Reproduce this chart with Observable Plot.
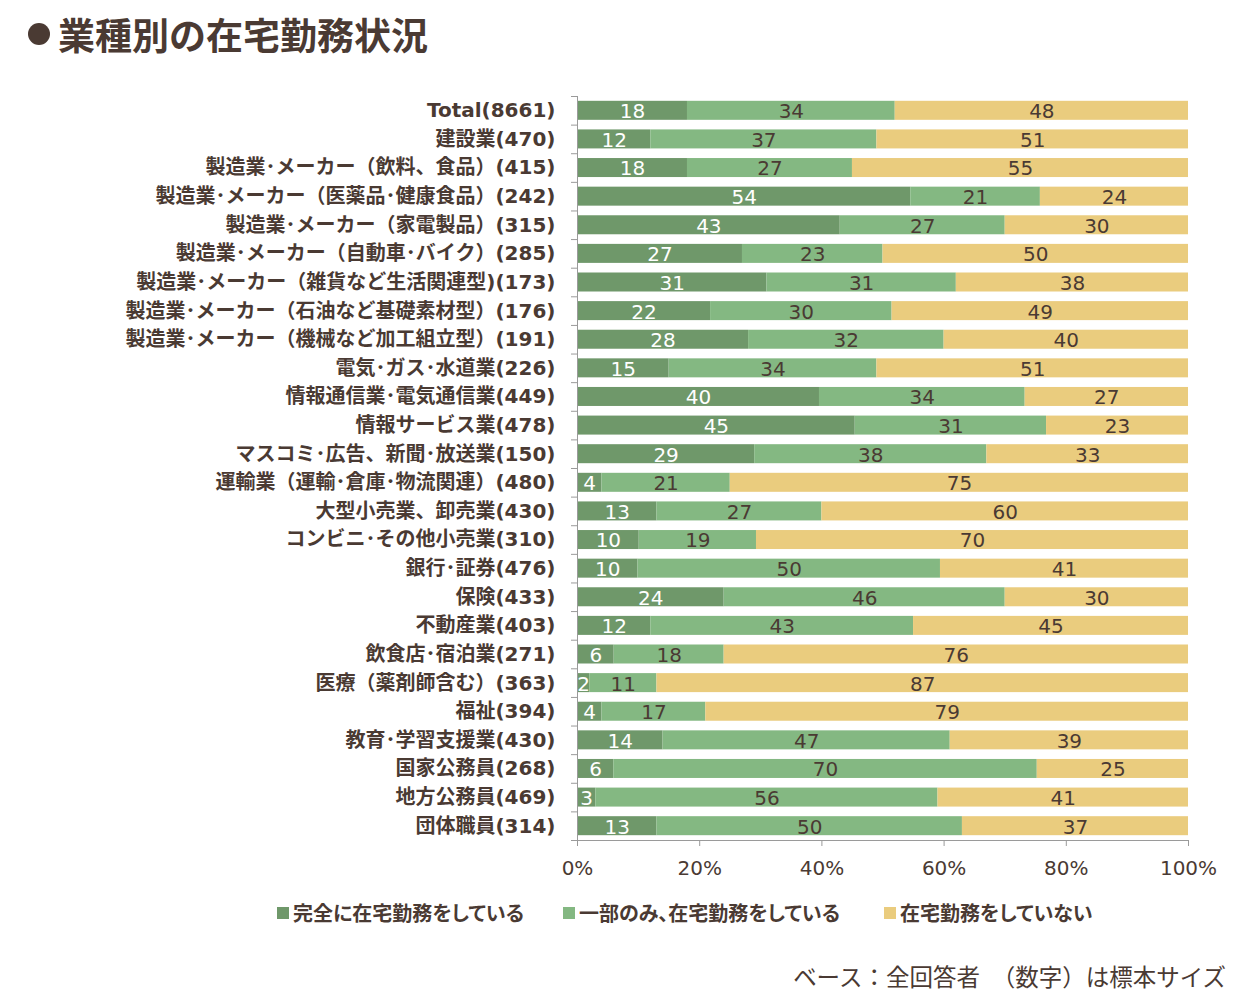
<!DOCTYPE html>
<html><head><meta charset="utf-8">
<script src="https://cdn.jsdelivr.net/npm/d3@7"></script>
<script src="https://cdn.jsdelivr.net/npm/@observablehq/plot@0.6"></script>
<style>
body{margin:0;background:#fff;}
#wrap{position:relative;width:1242px;height:1006px;color:#4a3a33;font-family:"Noto Sans CJK JP",sans-serif;}
#title{position:absolute;left:26px;top:12px;font-size:37px;font-weight:bold;line-height:44px;white-space:nowrap;display:flex;align-items:center;}
#title .dot{display:inline-block;width:22px;height:22px;border-radius:50%;background:#4a3a33;margin:0 8px 0 2px;}
#chart{position:absolute;left:0;top:80px;}
#legend{position:absolute;left:0;top:898px;width:1242px;height:30px;font-size:20px;font-weight:bold;line-height:30px;white-space:nowrap;font-feature-settings:"palt";}
#legend .item{position:absolute;top:0;display:flex;align-items:center;}
#legend .sw{width:12px;height:12px;margin-right:4px;}
#note{position:absolute;right:16px;top:960px;font-size:23.5px;line-height:32px;white-space:nowrap;}
</style></head>
<body>
<div id="wrap">
<div id="title"><span class="dot"></span><span>業種別の在宅勤務状況</span></div>
<div id="chart"></div>
<div id="legend"></div>
<div id="note">ベース：全回答者　（数字）は標本サイズ</div>
</div>
<script>
const categories = [
"Total(8661)",
"建設業(470)",
"製造業･メーカー（飲料、食品）(415)",
"製造業･メーカー（医薬品･健康食品）(242)",
"製造業･メーカー（家電製品）(315)",
"製造業･メーカー（自動車･バイク）(285)",
"製造業･メーカー（雑貨など生活関連型)(173)",
"製造業･メーカー（石油など基礎素材型）(176)",
"製造業･メーカー（機械など加工組立型）(191)",
"電気･ガス･水道業(226)",
"情報通信業･電気通信業(449)",
"情報サービス業(478)",
"マスコミ･広告、新聞･放送業(150)",
"運輸業（運輸･倉庫･物流関連）(480)",
"大型小売業、卸売業(430)",
"コンビニ･その他小売業(310)",
"銀行･証券(476)",
"保険(433)",
"不動産業(403)",
"飲食店･宿泊業(271)",
"医療（薬剤師含む）(363)",
"福祉(394)",
"教育･学習支援業(430)",
"国家公務員(268)",
"地方公務員(469)",
"団体職員(314)"
];
const fullRemote    = [18,12,18,54,43,27,31,22,28,15,40,45,29, 4,13,10,10,24,12, 6, 2, 4,14, 6, 3,13];
const partialRemote = [34,37,27,21,27,23,31,30,32,34,34,31,38,21,27,19,50,46,43,18,11,17,47,70,56,50];
const noRemote      = [48,51,55,24,30,50,38,49,40,51,27,23,33,75,60,70,41,30,45,76,87,79,39,25,41,37];
const seriesNames = ["完全に在宅勤務をしている","一部のみ、在宅勤務をしている","在宅勤務をしていない"];
const seriesColors = ["#6f986a","#84b882","#eacc7e"];
const xTicks = [0,0.2,0.4,0.6,0.8,1];

const brown = "#4a3a33";
const axisGray = "#9a9a9a";
const legendLefts = [277, 563, 884];

const data = categories.flatMap((c,i) =>
  [fullRemote[i], partialRemote[i], noRemote[i]].map((v,j) => ({category:c, series:seriesNames[j], value:v})));

const W = 1242, H = 800, mL = 577, mR = 54, mT = 16, mB = 40;
const step = (H - mT - mB) / categories.length;
const tickLen = 6 / (W - mL - mR);
const numFont = "DejaVu Sans, sans-serif";

const chart = Plot.plot({
  width: W, height: H,
  marginLeft: mL, marginRight: mR, marginTop: mT, marginBottom: mB,
  style: {fontFamily: "DejaVu Sans, 'Noto Sans CJK JP', sans-serif", color: brown, background: "transparent", overflow: "visible"},
  x: {domain: [0,1], axis: null},
  y: {domain: categories, paddingInner: 0.336, paddingOuter: 0.168, round: false, axis: null},
  color: {domain: seriesNames, range: seriesColors},
  marks: [
    Plot.barX(data, Plot.stackX({x: "value", y: "category", fill: "series", offset: "normalize"})),
    Plot.text(data, Plot.stackX({x: "value", y: "category", offset: "normalize",
      text: d => d.series === seriesNames[0] ? String(d.value) : "",
      fill: "white", fontSize: 20, fontFamily: numFont, dy: 1})),
    Plot.text(data, Plot.stackX({x: "value", y: "category", offset: "normalize",
      text: d => d.series !== seriesNames[0] ? String(d.value) : "",
      fill: brown, fontSize: 20, fontFamily: numFont, dy: 1})),
    Plot.ruleX([0], {stroke: axisGray}),
    Plot.ruleY(categories, {y: d => d, x1: -tickLen, x2: 0, dy: -step/2, stroke: axisGray}),
    Plot.ruleY([categories[categories.length-1]], {y: d => d, x1: -tickLen, x2: 1, dy: step/2, stroke: axisGray}),
    Plot.axisY({tickSize: 0, tickPadding: 22, fontSize: 20, fontWeight: "bold", label: null, fill: brown}),
    Plot.axisX({ticks: xTicks, tickFormat: d3.format(".0%"), tickSize: 6, tickPadding: 14,
      fontSize: 20, fontFamily: numFont, label: null, stroke: axisGray, fill: brown})
  ]
});
document.getElementById("chart").appendChild(chart);

const legend = document.getElementById("legend");
seriesNames.forEach((s,i) => {
  const item = document.createElement("div"); item.className = "item"; item.style.left = legendLefts[i] + "px";
  const sw = document.createElement("div"); sw.className = "sw"; sw.style.background = seriesColors[i];
  const t = document.createElement("span"); t.textContent = s;
  item.appendChild(sw); item.appendChild(t); legend.appendChild(item);
});
</script>
</body></html>
